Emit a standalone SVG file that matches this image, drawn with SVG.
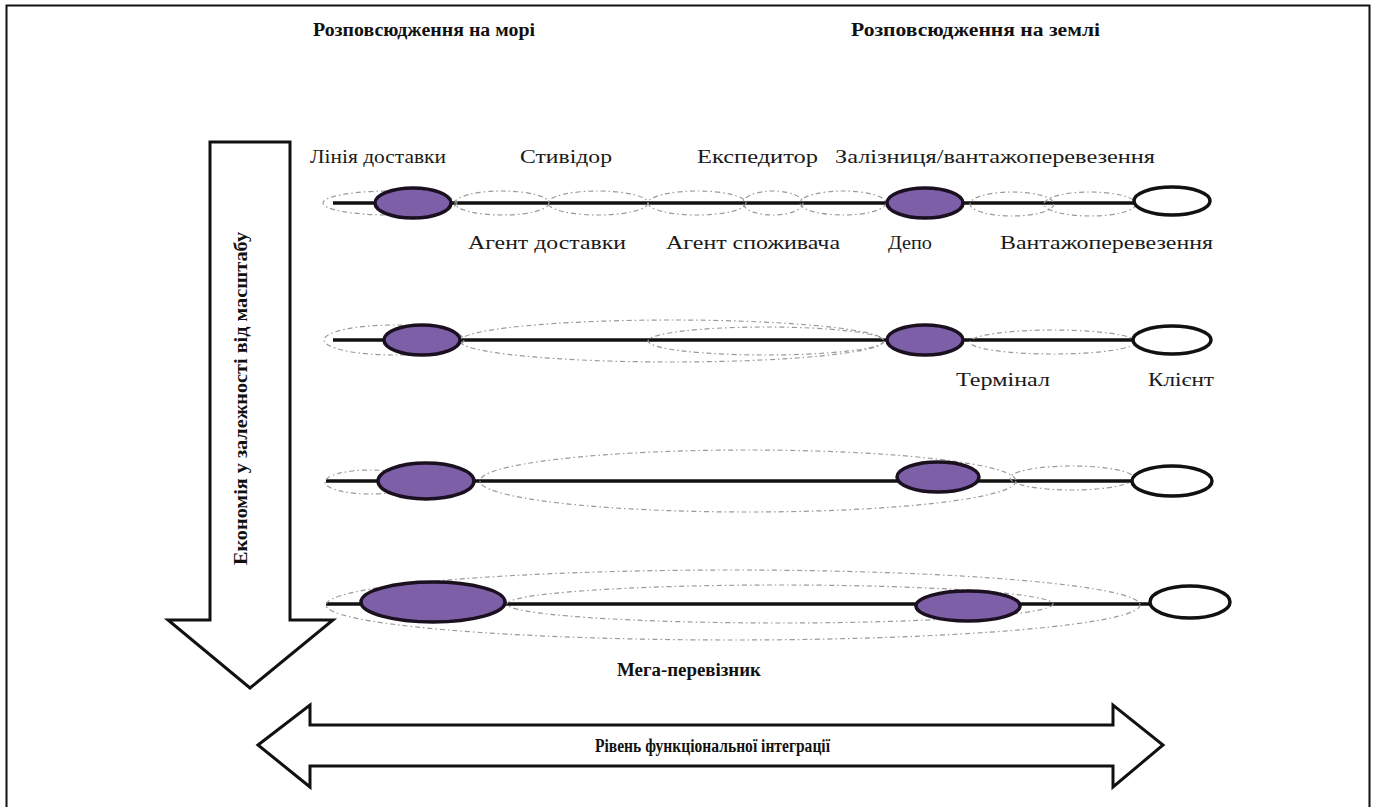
<svg xmlns="http://www.w3.org/2000/svg" width="1373" height="807" viewBox="0 0 1373 807">
<style>
.t{font-family:"Liberation Serif","DejaVu Serif",serif;font-size:18px;fill:#1a1a1a}
.b{font-weight:bold;fill:#111}
.dash{fill:none;stroke:#9a9a9a;stroke-width:1.2;stroke-dasharray:5 3 1.5 3}
.ln{stroke:#111;stroke-width:3.5;fill:none}
.fill{fill:#7d5fa8;stroke:#1a1020;stroke-width:3.5}
.open{fill:#fff;stroke:#111;stroke-width:3.5}
.arr{fill:#fff;stroke:#111;stroke-width:3;stroke-linejoin:miter}
</style>
<rect x="0" y="0" width="1373" height="807" fill="#fff"/>
<path d="M6.5,812 V5.5 H1369.5 V812" fill="none" stroke="#111" stroke-width="2"/>

<g id="headers">
<text class="t b" x="313" y="36" textLength="222" lengthAdjust="spacingAndGlyphs">Розповсюдження на морі</text>
<text class="t b" x="851" y="36" textLength="249" lengthAdjust="spacingAndGlyphs">Розповсюдження на землі</text>
</g>

<g id="scale-arrow">
<path class="arr" d="M210,142 H290 V620 H333 L250,688 L168,620 H210 Z"/>
<text class="t b" transform="translate(247,565) rotate(-90)" textLength="333" lengthAdjust="spacingAndGlyphs">Економія у залежності від масштабу</text>
</g>

<g id="integration-arrow">
<path class="arr" d="M258,745 L310,705 V725 H1113 V705 L1163,745 L1113,787 V766 H310 V787 Z"/>
<text class="t b" x="595" y="752" font-size="19" textLength="235" lengthAdjust="spacingAndGlyphs">Рівень функціональної інтеграції</text>
</g>

<g id="connectors">
<line class="ln" x1="333" y1="203" x2="1135" y2="203"/>
<line class="ln" x1="333" y1="340" x2="1135" y2="340"/>
<line class="ln" x1="326" y1="481" x2="1135" y2="481"/>
<line class="ln" x1="326" y1="604" x2="1152" y2="604"/>
</g>

<g id="scope-row1">
<ellipse class="dash" cx="390" cy="203" rx="67" ry="12"/>
<ellipse class="dash" cx="502" cy="203" rx="47" ry="12"/>
<ellipse class="dash" cx="598" cy="203" rx="50" ry="12"/>
<ellipse class="dash" cx="697" cy="203" rx="49" ry="12"/>
<ellipse class="dash" cx="773" cy="203" rx="30" ry="12"/>
<ellipse class="dash" cx="843" cy="203" rx="43" ry="12"/>
<ellipse class="dash" cx="1012" cy="204" rx="42" ry="12"/>
<ellipse class="dash" cx="1090" cy="204" rx="46" ry="12"/>
</g>
<g id="scope-row2">
<ellipse class="dash" cx="394" cy="340" rx="70" ry="15"/>
<ellipse class="dash" cx="672" cy="341" rx="212" ry="21"/>
<ellipse class="dash" cx="766" cy="341" rx="118" ry="14"/>
<ellipse class="dash" cx="1053" cy="342" rx="83" ry="12"/>
</g>
<g id="scope-row3">
<ellipse class="dash" cx="370" cy="482" rx="45" ry="12"/>
<ellipse class="dash" cx="748" cy="481" rx="268" ry="31"/>
<ellipse class="dash" cx="1072" cy="478" rx="62" ry="12"/>
</g>
<g id="scope-row4">
<ellipse class="dash" cx="733" cy="605" rx="407" ry="35"/>
<ellipse class="dash" cx="780" cy="604" rx="273" ry="19"/>
</g>

<g id="row1-shipping-line"><ellipse class="fill" cx="413" cy="203" rx="38" ry="15"/></g>
<g id="row1-depot"><ellipse class="fill" cx="925" cy="203" rx="38" ry="15"/></g>
<g id="row1-end"><ellipse class="open" cx="1172" cy="201" rx="38" ry="14"/></g>

<g id="row2-shipping-line"><ellipse class="fill" cx="422" cy="340" rx="38" ry="15"/></g>
<g id="row2-terminal"><ellipse class="fill" cx="925" cy="340" rx="38" ry="15"/></g>
<g id="row2-client"><ellipse class="open" cx="1172" cy="340" rx="39" ry="14"/></g>

<g id="row3-shipping-line"><ellipse class="fill" cx="426" cy="481" rx="48" ry="18"/></g>
<g id="row3-terminal"><ellipse class="fill" cx="938" cy="477" rx="41" ry="15"/></g>
<g id="row3-client"><ellipse class="open" cx="1172" cy="481" rx="40" ry="15"/></g>

<g id="row4-mega-carrier"><ellipse class="fill" cx="433" cy="602" rx="72" ry="20"/></g>
<g id="row4-terminal"><ellipse class="fill" cx="968" cy="606" rx="52" ry="15"/></g>
<g id="row4-client"><ellipse class="open" cx="1190" cy="602" rx="40" ry="16"/></g>

<g id="labels">
<text class="t" x="310" y="163" textLength="136" lengthAdjust="spacingAndGlyphs">Лінія доставки</text>
<text class="t" x="520" y="163" textLength="92" lengthAdjust="spacingAndGlyphs">Стивідор</text>
<text class="t" x="697" y="163" textLength="121" lengthAdjust="spacingAndGlyphs">Експедитор</text>
<text class="t" x="835" y="163" textLength="320" lengthAdjust="spacingAndGlyphs">Залізниця/вантажоперевезення</text>
<text class="t" x="468" y="249" textLength="158" lengthAdjust="spacingAndGlyphs">Агент доставки</text>
<text class="t" x="666" y="249" textLength="174" lengthAdjust="spacingAndGlyphs">Агент споживача</text>
<text class="t" x="888" y="249" textLength="44" lengthAdjust="spacingAndGlyphs">Депо</text>
<text class="t" x="1000" y="249" textLength="213" lengthAdjust="spacingAndGlyphs">Вантажоперевезення</text>
<text class="t" x="956" y="386" textLength="94" lengthAdjust="spacingAndGlyphs">Термінал</text>
<text class="t" x="1148" y="386" textLength="66" lengthAdjust="spacingAndGlyphs">Клієнт</text>
<text class="t b" x="617" y="676" textLength="144" lengthAdjust="spacingAndGlyphs">Мега-перевізник</text>
</g>
</svg>
